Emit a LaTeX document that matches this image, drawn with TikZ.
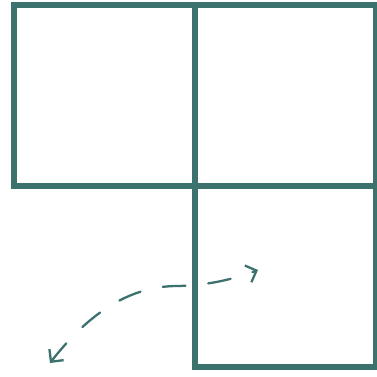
\documentclass[tikz,border=0pt]{standalone}
\usepackage{tikz}
\usetikzlibrary{arrows.meta,positioning}
\usepackage{xcolor}
\definecolor{tealline}{HTML}{3B726E}
\tikzset{
  cell/.style={draw=tealline,line width=3.4pt,minimum size=3.62cm,inner sep=0pt,outer sep=0pt},
  swing/.style={{Straight Barb[length=1.8mm,width=3.6mm]}-{Straight Barb[length=1.8mm,width=3.6mm]},
    draw=tealline,line width=1.3pt,dash pattern=on 13pt off 13pt,line cap=round}
}
\begin{document}
\begin{tikzpicture}[x=0.02cm,y=-0.02cm,node distance=0pt]
        \useasboundingbox (0,0) rectangle (377,376);
        \node[cell] (tl) at (104.5,95.5) {};
        \node[cell,right=of tl] (tr) {};
        \node[cell,below=of tr] (br) {};
        \coordinate (a) at (50,363);
        \coordinate (b) at (258,270);
        \draw[swing] (a) .. controls (85,318) and (125,287) .. (175,286)
          .. controls (205,286) and (235,279) .. (b);
      \end{tikzpicture}
\end{document}
